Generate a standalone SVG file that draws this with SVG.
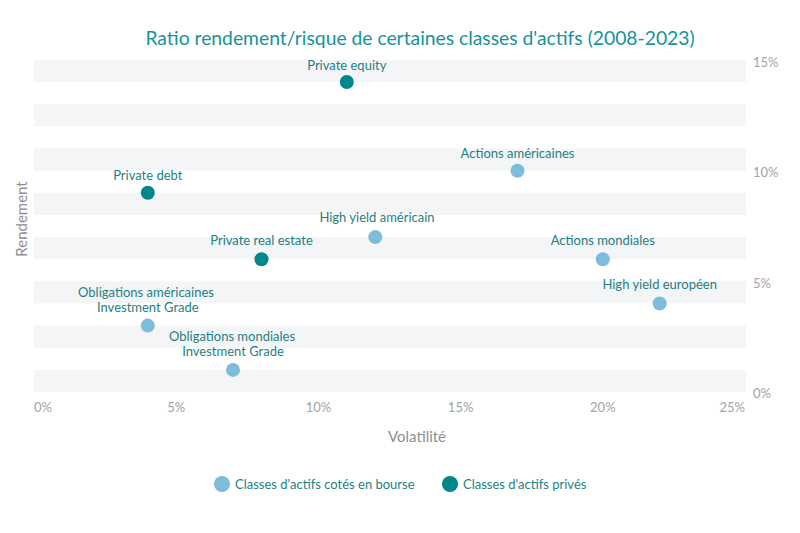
<svg xmlns="http://www.w3.org/2000/svg" width="800" height="533" viewBox="0 0 800 533">
<style>
text{font-family:Lato,"Noto Sans","Liberation Sans",sans-serif}
.band{fill:#f4f5f7}
.title{font-size:19.3px;fill:#17939b;text-anchor:middle}
.tick{font-size:13px;fill:#a3a3a8}
.axis{font-size:15px;fill:#8e8e93;text-anchor:middle}
.lbl{font-size:13px;fill:#1f7f84;text-anchor:middle}
.leg{font-size:13px;fill:#1f7f84}
.pub{fill:#7dbcdb}
.priv{fill:#00878b}
</style>
<rect width="800" height="533" fill="#ffffff"/>
<text class="title" x="420" y="45">Ratio rendement/risque de certaines classes d'actifs (2008-2023)</text>
<g id="bands">
<rect class="band" x="34" y="60" width="712" height="22.1"/>
<rect class="band" x="34" y="104.3" width="712" height="22.1"/>
<rect class="band" x="34" y="148.5" width="712" height="22.1"/>
<rect class="band" x="34" y="192.8" width="712" height="22.1"/>
<rect class="band" x="34" y="237.1" width="712" height="22.1"/>
<rect class="band" x="34" y="281.3" width="712" height="22.1"/>
<rect class="band" x="34" y="325.6" width="712" height="22.1"/>
<rect class="band" x="34" y="369.9" width="712" height="22.1"/>
</g>
<g id="y-ticks">
<text class="tick" x="753" y="67">15%</text>
<text class="tick" x="753" y="177">10%</text>
<text class="tick" x="753" y="288">5%</text>
<text class="tick" x="753" y="398">0%</text>
</g>
<g id="x-ticks">
<text class="tick" x="34" y="412">0%</text>
<text class="tick" x="176.2" y="412" text-anchor="middle">5%</text>
<text class="tick" x="318.4" y="412" text-anchor="middle">10%</text>
<text class="tick" x="460.6" y="412" text-anchor="middle">15%</text>
<text class="tick" x="602.8" y="412" text-anchor="middle">20%</text>
<text class="tick" x="745" y="412" text-anchor="end">25%</text>
</g>
<text class="axis" x="417" y="442">Volatilité</text>
<text class="axis" transform="translate(27,219) rotate(-90)">Rendement</text>
<g id="connectors"></g>
<g id="private-equity"><circle class="priv" cx="346.8" cy="82" r="7"/><text class="lbl" x="346.8" y="70">Private equity</text></g>
<g id="private-debt"><circle class="priv" cx="147.8" cy="192.8" r="7"/><text class="lbl" x="147.8" y="180">Private debt</text></g>
<g id="actions-americaines"><circle class="pub" cx="517.5" cy="170.7" r="7"/><text class="lbl" x="517.5" y="158">Actions américaines</text></g>
<g id="high-yield-americain"><circle class="pub" cx="375.3" cy="237.1" r="7"/><text class="lbl" x="377" y="222">High yield américain</text></g>
<g id="private-real-estate"><circle class="priv" cx="261.5" cy="259.2" r="7"/><text class="lbl" x="261.5" y="245">Private real estate</text></g>
<g id="actions-mondiales"><circle class="pub" cx="602.8" cy="259.2" r="7"/><text class="lbl" x="602.8" y="245">Actions mondiales</text></g>
<g id="high-yield-europeen"><circle class="pub" cx="659.7" cy="303.5" r="7"/><text class="lbl" x="659.7" y="289">High yield européen</text></g>
<g id="obligations-americaines"><circle class="pub" cx="147.8" cy="325.6" r="7"/><text class="lbl" x="146" y="297">Obligations américaines</text><text class="lbl" x="147.8" y="312">Investment Grade</text></g>
<g id="obligations-mondiales"><circle class="pub" cx="233" cy="369.9" r="7"/><text class="lbl" x="232" y="341">Obligations mondiales</text><text class="lbl" x="233" y="356">Investment Grade</text></g>
<g id="legend">
<circle class="pub" cx="222" cy="484" r="8"/><text class="leg" x="235" y="489">Classes d'actifs cotés en bourse</text>
<circle class="priv" cx="450" cy="484" r="8"/><text class="leg" x="463" y="489">Classes d'actifs privés</text>
</g>
</svg>
